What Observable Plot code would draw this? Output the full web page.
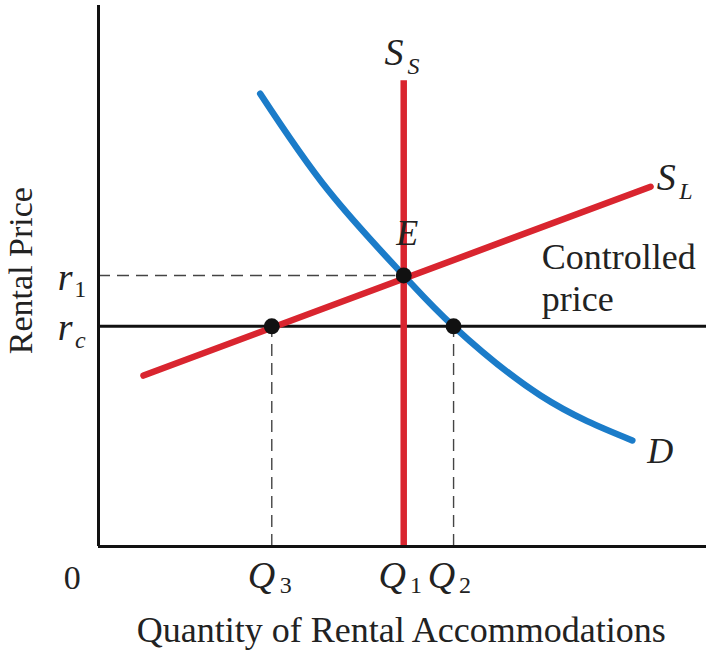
<!DOCTYPE html>
<html><head><meta charset="utf-8">
<script src="https://cdn.jsdelivr.net/npm/d3@7"></script>
<script src="https://cdn.jsdelivr.net/npm/@observablehq/plot@0.6"></script>
<style>body{margin:0;background:#fff}</style>
</head><body><div id="chart"></div>
<script>
// quantity / price points in chart units (0..100)
const Q = {Q3: 28.5, Q1: 50.2, Q2: 58.4};
const R = {r1: 50.1, rc: 40.7};
const demand = [[26.6, 83.7], [37.8, 65.8], [50.2, 50.1], [58.4, 40.7], [72.7, 27.9], [87.8, 19.6]];
const supplyLong = [[7.4, 31.6], [90.8, 66.5]];
const supplyShortTop = 86.1;
const dots = [[Q.Q3, R.rc], [Q.Q1, R.r1], [Q.Q2, R.rc]];

const red = "#d9252f", blue = "#1b7cc9";
const serif = "Liberation Serif";

const labels = [
  {x: 48.6, y: 91.3, t: "S", s: 38, i: true}, {x: 51.8, y: 88.7, t: "S", s: 24, i: true},
  {x: 93.4, y: 68.2, t: "S", s: 38, i: true}, {x: 96.6, y: 65.6, t: "L", s: 24, i: true},
  {x: 50.8, y: 57.8, t: "E", s: 36, i: true},
  {x: 92.4, y: 17.5, t: "D", s: 36, i: true},
  {x: 72.9, y: 53.4, t: "Controlled", s: 36, a: "start"}, {x: 72.9, y: 45.6, t: "price", s: 36, a: "start"},
  {x: -5.5, y: 49.6, t: "r", s: 38, i: true}, {x: -3.0, y: 47.6, t: "1", s: 24},
  {x: -5.5, y: 40.4, t: "r", s: 38, i: true}, {x: -3.0, y: 38.2, t: "c", s: 24, i: true},
  {x: -4.3, y: -5.9, t: "0", s: 34},
  {x: 26.8, y: -5.4, t: "Q", s: 38, i: true}, {x: 30.8, y: -7.2, t: "3", s: 24},
  {x: 48.3, y: -5.4, t: "Q", s: 38, i: true}, {x: 52.2, y: -7.2, t: "1", s: 24},
  {x: 56.4, y: -5.4, t: "Q", s: 38, i: true}, {x: 60.3, y: -7.2, t: "2", s: 24},
  {x: 49.8, y: -15.5, t: "Quantity of Rental Accommodations", s: 36}
];

const textMark = (d) => Plot.text([d], {x: "x", y: "y", text: "t", fontSize: d.s,
  textAnchor: d.a || "middle",
  fontStyle: d.i ? "italic" : "normal", fontFamily: serif, fill: "#222"});

const chart = Plot.plot({
  width: 716, height: 650,
  marginLeft: 98, marginRight: 10, marginTop: 5, marginBottom: 104,
  x: {domain: [0, 100], axis: null},
  y: {domain: [0, 100], axis: null},
  style: {fontFamily: serif, background: "#fff"},
  marks: [
    Plot.ruleX([Q.Q3, Q.Q2], {y1: 0, y2: R.rc, stroke: "#444", strokeDasharray: "12,7", strokeWidth: 1.4}),
    Plot.ruleY([R.r1], {x1: 0, x2: Q.Q1, stroke: "#444", strokeDasharray: "12,7", strokeWidth: 1.4}),
    Plot.ruleY([R.rc], {x1: 0, x2: 100, stroke: "#111", strokeWidth: 3}),
    Plot.line(demand, {curve: "natural", stroke: blue, strokeWidth: 6.5}),
    Plot.line(supplyLong, {stroke: red, strokeWidth: 6.5}),
    Plot.ruleX([Q.Q1], {y1: 0, y2: supplyShortTop, stroke: red, strokeWidth: 6.5}),
    Plot.dot(dots, {r: 8, fill: "#111"}),
    Plot.ruleX([0], {y1: 0, y2: 100, stroke: "#111", strokeWidth: 3}),
    Plot.ruleY([0], {x1: 0, x2: 100, stroke: "#111", strokeWidth: 3}),
    ...labels.map(textMark),
    Plot.text(["Rental Price"], {x: -12.8, y: 51, rotate: -90, fontSize: 34, fontFamily: serif, fill: "#222"})
  ]
});
d3.select('#chart').append(() => chart);
</script>
</body></html>
